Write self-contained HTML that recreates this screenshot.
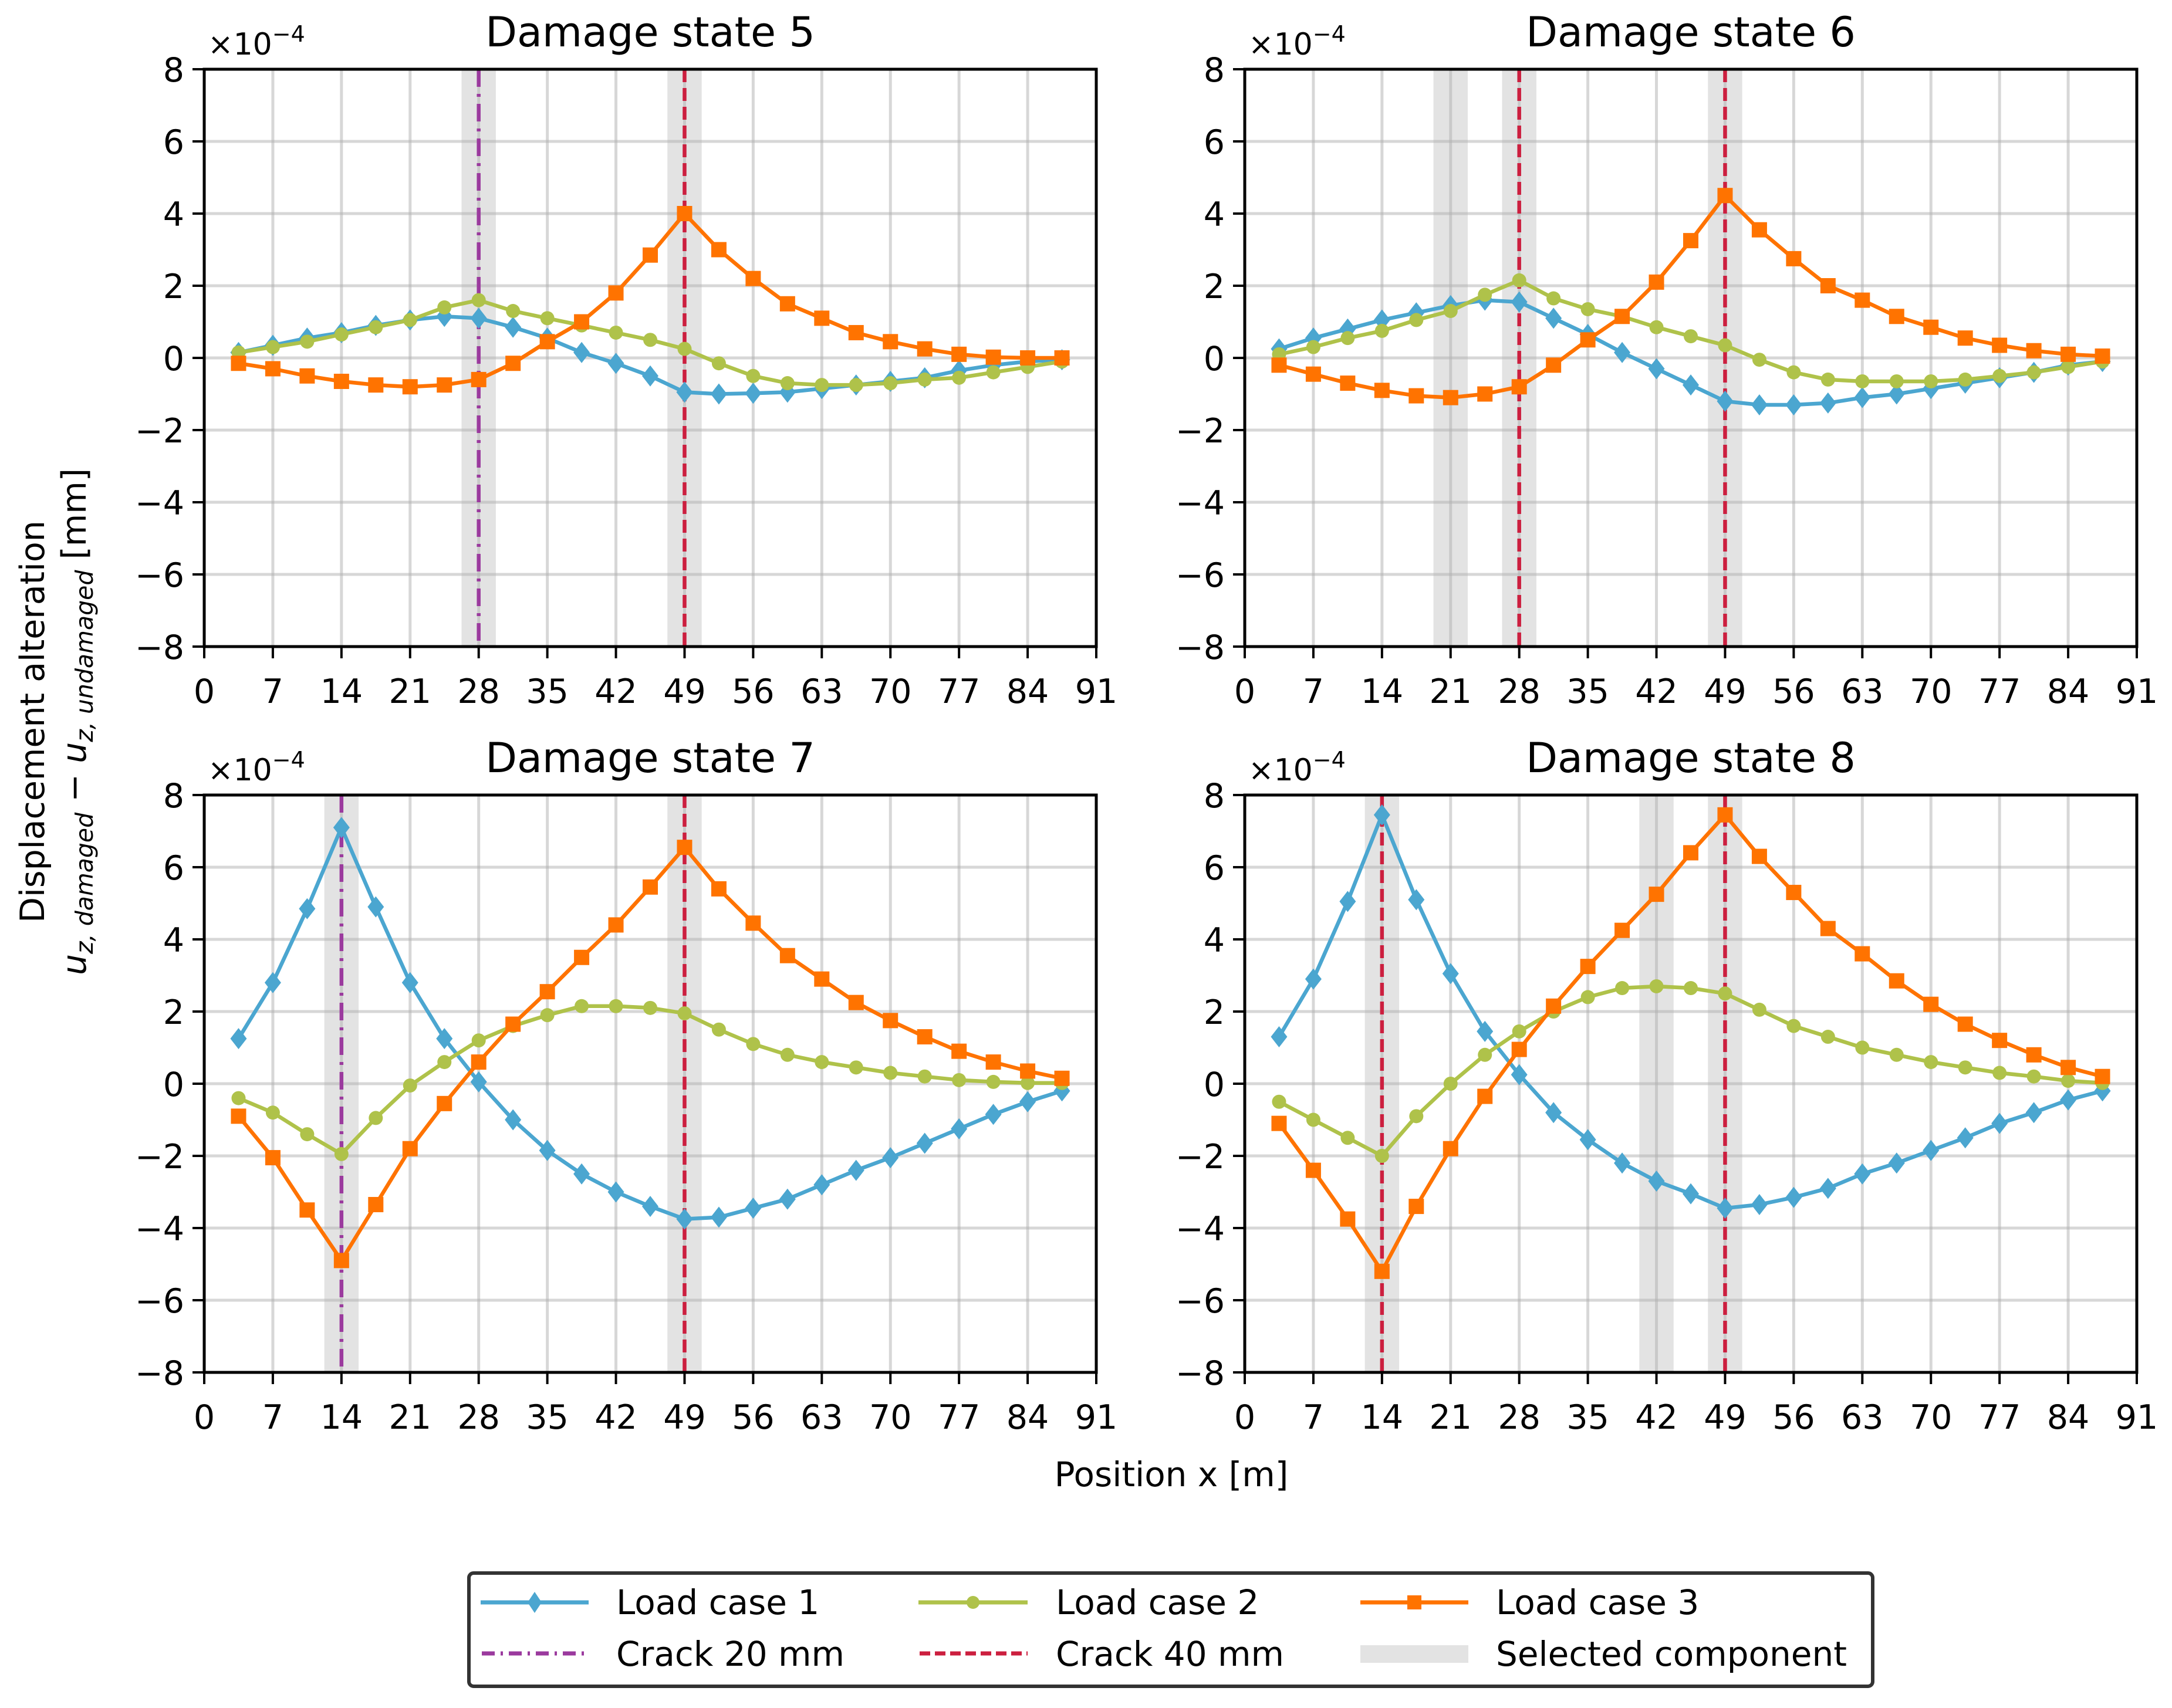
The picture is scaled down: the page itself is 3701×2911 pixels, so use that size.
<!DOCTYPE html>
<html><head><meta charset="utf-8"><style>
html,body{margin:0;padding:0;background:#fff;}
svg{display:block;font-family:"DejaVu Sans","Liberation Sans",sans-serif;}
</style></head><body>
<svg id="fig" width="3701" height="2911" viewBox="0 0 3701 2911" xmlns="http://www.w3.org/2000/svg">
<rect width="3701" height="2911" fill="#fff"/>
<g id="panels"></g>
<text transform="translate(75,1230) rotate(-90)" font-size="57" text-anchor="middle">Displacement alteration</text>
<text transform="translate(146,1230) rotate(-90)" font-size="57" text-anchor="middle"><tspan font-style="italic">u</tspan><tspan font-style="italic" font-size="41" dy="12">z, damaged</tspan><tspan dy="-12"> − </tspan><tspan font-style="italic">u</tspan><tspan font-style="italic" font-size="41" dy="12">z, undamaged</tspan><tspan dy="-12"> [mm]</tspan></text>
<text x="1996" y="2533" font-size="58" text-anchor="middle">Position x [m]</text>
<g>
<rect x="799" y="2681" width="2392" height="193" rx="8" fill="#fff" stroke="#333" stroke-width="6"/>
<g>
<line x1="819" y1="2731" x2="1003" y2="2731" stroke="#4BA6D0" stroke-width="7"/>
<polygon points="911,2713 923,2731 911,2749 899,2731" fill="#4BA6D0"/>
<text x="1050" y="2751" font-size="58">Load case 1</text></g>
<g>
<line x1="1565" y1="2731" x2="1751" y2="2731" stroke="#AFC24A" stroke-width="7"/>
<circle cx="1658" cy="2731" r="11" fill="#AFC24A"/>
<text x="1799" y="2751" font-size="58">Load case 2</text></g>
<g>
<line x1="2318" y1="2731" x2="2502" y2="2731" stroke="#FF7300" stroke-width="7"/>
<rect x="2398" y="2719" width="24" height="24" fill="#FF7300"/>
<text x="2549" y="2751" font-size="58">Load case 3</text></g>
<g>
<line x1="821" y1="2818" x2="1003" y2="2818" stroke="#9B3A9E" stroke-width="7" stroke-dasharray="22 10 4 10"/>
<text x="1050" y="2839" font-size="58">Crack 20 mm</text></g>
<g>
<line x1="1567" y1="2818" x2="1751" y2="2818" stroke="#CC1F3F" stroke-width="7" stroke-dasharray="18 8"/>
<text x="1799" y="2839" font-size="58">Crack 40 mm</text></g>
<g>
<rect x="2318" y="2804" width="184" height="30" fill="#e3e3e3"/>
<text x="2549" y="2839" font-size="58">Selected component</text></g>
</g>
</svg>
<script>
const xPos = [3.5,7,10.5,14,17.5,21,24.5,28,31.5,35,38.5,42,45.5,49,52.5,56,59.5,63,66.5,70,73.5,77,80.5,84,87.5];
const xTicks = [0,7,14,21,28,35,42,49,56,63,70,77,84,91];
const yTicks = [-8,-6,-4,-2,0,2,4,6,8];
const yTickLabels = ["−8","−6","−4","−2","0","2","4","6","8"];
const titles = ["Damage state 5","Damage state 6","Damage state 7","Damage state 8"];
const lc1_ds5 = [0.15,0.35,0.55,0.7,0.9,1.05,1.15,1.1,0.85,0.55,0.15,-0.15,-0.5,-0.95,-1.0,-0.98,-0.95,-0.85,-0.75,-0.65,-0.55,-0.35,-0.2,-0.1,-0.05];
const lc2_ds5 = [0.15,0.3,0.45,0.65,0.85,1.05,1.4,1.6,1.3,1.1,0.9,0.7,0.5,0.25,-0.15,-0.5,-0.7,-0.75,-0.75,-0.7,-0.6,-0.55,-0.4,-0.25,-0.1];
const lc3_ds5 = [-0.15,-0.3,-0.5,-0.65,-0.75,-0.8,-0.75,-0.6,-0.15,0.45,1.0,1.8,2.85,4.0,3.0,2.2,1.5,1.1,0.7,0.45,0.25,0.1,0.02,0,0];
const lc1_ds6 = [0.25,0.55,0.8,1.05,1.25,1.45,1.6,1.55,1.1,0.65,0.15,-0.3,-0.75,-1.2,-1.3,-1.3,-1.25,-1.1,-1.0,-0.85,-0.7,-0.55,-0.4,-0.2,-0.1];
const lc2_ds6 = [0.1,0.3,0.55,0.75,1.05,1.3,1.75,2.15,1.65,1.35,1.15,0.85,0.6,0.35,-0.05,-0.4,-0.6,-0.65,-0.65,-0.65,-0.6,-0.5,-0.4,-0.25,-0.1];
const lc3_ds6 = [-0.2,-0.45,-0.7,-0.9,-1.05,-1.1,-1.0,-0.8,-0.2,0.5,1.15,2.1,3.25,4.5,3.55,2.75,2.0,1.6,1.15,0.85,0.55,0.35,0.2,0.1,0.05];
const lc1_ds7 = [1.25,2.8,4.85,7.1,4.9,2.8,1.25,0.05,-1.0,-1.85,-2.5,-3.0,-3.4,-3.75,-3.7,-3.45,-3.2,-2.8,-2.4,-2.05,-1.65,-1.25,-0.85,-0.5,-0.2];
const lc2_ds7 = [-0.4,-0.8,-1.4,-1.95,-0.95,-0.05,0.6,1.2,1.6,1.9,2.15,2.15,2.1,1.95,1.5,1.1,0.8,0.6,0.45,0.3,0.2,0.1,0.05,0.02,0.02];
const lc3_ds7 = [-0.9,-2.05,-3.5,-4.9,-3.35,-1.8,-0.55,0.6,1.65,2.55,3.5,4.4,5.45,6.55,5.4,4.45,3.55,2.9,2.25,1.75,1.3,0.9,0.6,0.35,0.15];
const lc1_ds8 = [1.3,2.9,5.05,7.45,5.1,3.05,1.45,0.25,-0.8,-1.55,-2.2,-2.7,-3.05,-3.45,-3.35,-3.15,-2.9,-2.5,-2.2,-1.85,-1.5,-1.1,-0.8,-0.45,-0.2];
const lc2_ds8 = [-0.5,-1.0,-1.5,-2.0,-0.9,0,0.8,1.45,2.0,2.4,2.65,2.7,2.65,2.5,2.05,1.6,1.3,1.0,0.8,0.6,0.45,0.3,0.2,0.08,0.02];
const lc3_ds8 = [-1.1,-2.4,-3.75,-5.2,-3.4,-1.8,-0.35,0.95,2.15,3.25,4.25,5.25,6.4,7.45,6.3,5.3,4.3,3.6,2.85,2.2,1.65,1.2,0.8,0.45,0.2];
const bands_ds5 = [28,49], bands_ds6 = [21,28,49], bands_ds7 = [14,49], bands_ds8 = [14,42,49];
const crack20_ds5 = [28], crack40_ds5 = [49];
const crack20_ds6 = [], crack40_ds6 = [28,49];
const crack20_ds7 = [14], crack40_ds7 = [49];
const crack20_ds8 = [], crack40_ds8 = [14,49];

const NS = "http://www.w3.org/2000/svg";
const root = document.getElementById("panels");
const W = 1520, H = 984;
const origins = [[348,118],[2121,118],[348,1355],[2121,1355]];
const panelData = [
 [lc1_ds5,lc2_ds5,lc3_ds5,bands_ds5,crack20_ds5,crack40_ds5],
 [lc1_ds6,lc2_ds6,lc3_ds6,bands_ds6,crack20_ds6,crack40_ds6],
 [lc1_ds7,lc2_ds7,lc3_ds7,bands_ds7,crack20_ds7,crack40_ds7],
 [lc1_ds8,lc2_ds8,lc3_ds8,bands_ds8,crack20_ds8,crack40_ds8]];
function mk(tag, attrs, parent){const e=document.createElementNS(NS,tag);for(const k in attrs)e.setAttribute(k,attrs[k]);parent.appendChild(e);return e;}

panelData.forEach((pd,pi)=>{
  const [ox,oy]=origins[pi];
  const sx=v=>ox+v/91*W, sy=v=>oy+H-(v+8)/16*H;
  const g=mk("g",{},root);
  
  
  pd[3].forEach(b=>{const r=mk("rect",{x:sx(b-1.75),y:oy,width:sx(b+1.75)-sx(b-1.75),height:H,fill:"#e3e3e3"},g);
    
    });
  xTicks.forEach(t=>{const l=mk("line",{x1:sx(t),x2:sx(t),y1:oy,y2:oy+H,stroke:"#b0b0b0","stroke-opacity":0.5,"stroke-width":5},g);
    
    });
  yTicks.forEach(t=>{const l=mk("line",{x1:ox,x2:ox+W,y1:sy(t),y2:sy(t),stroke:"#b0b0b0","stroke-opacity":0.5,"stroke-width":5},g);
    
    });
  pd[4].forEach(c=>{const l=mk("line",{x1:sx(c),x2:sx(c),y1:oy,y2:oy+H,stroke:"#9B3A9E","stroke-width":6.5,"stroke-dasharray":"30 12 5 12"},g);
    
    });
  pd[5].forEach(c=>{const l=mk("line",{x1:sx(c),x2:sx(c),y1:oy,y2:oy+H,stroke:"#CC1F3F","stroke-width":6.5,"stroke-dasharray":"22 10"},g);
    
    });
  const cols=["#4BA6D0","#AFC24A","#FF7300"], marks=["diamond","circle","square"];
  [0,1,2].forEach(si=>{
    const vals=pd[si];
    const sg=mk("g",{},g);
    
    
    const pts=vals.map((v,i)=>sx(xPos[i]).toFixed(1)+","+sy(v).toFixed(1)).join(" ");
    const pl=mk("polyline",{points:pts,fill:"none",stroke:cols[si],"stroke-width":6.5,"stroke-linejoin":"round"},sg);
    
    
    vals.forEach((v,i)=>{
      const cx=sx(xPos[i]), cy=sy(v); let m;
      if(marks[si]==="diamond") m=mk("polygon",{points:`${cx},${cy-18} ${cx+14},${cy} ${cx},${cy+18} ${cx-14},${cy}`,fill:cols[si]},sg);
      else if(marks[si]==="circle") m=mk("circle",{cx:cx,cy:cy,r:12,fill:cols[si]},sg);
      else m=mk("rect",{x:cx-13,y:cy-13,width:26,height:26,fill:cols[si]},sg);
      
      
    });
  });
  const fr=mk("rect",{x:ox,y:oy,width:W,height:H,fill:"none",stroke:"#000","stroke-width":5},g);
  
  
  xTicks.forEach(t=>{
    const l=mk("line",{x1:sx(t),x2:sx(t),y1:oy+H,y2:oy+H+20,stroke:"#000","stroke-width":4},g);
    
    
    const tx=mk("text",{x:sx(t),y:oy+H+96,"font-size":57,"text-anchor":"middle"},g);
    tx.textContent=t;
    
    
  });
  yTicks.forEach((t,i)=>{
    const l=mk("line",{x1:ox-20,x2:ox,y1:sy(t),y2:sy(t),stroke:"#000","stroke-width":4},g);
    
    
    const tx=mk("text",{x:ox-34,y:sy(t)+21,"font-size":57,"text-anchor":"end"},g);
    tx.textContent=yTickLabels[i];
    
    
  });
  const sc=mk("text",{x:ox+6,y:oy-25,"font-size":52},g);
  sc.innerHTML='×10<tspan dy="-22" font-size="38">−4</tspan>';
  
  
  const ti=mk("text",{x:ox+W/2,y:oy-39,"font-size":70,"text-anchor":"middle"},g);
  ti.textContent=titles[pi];
  
  
});
</script>
</body></html>
